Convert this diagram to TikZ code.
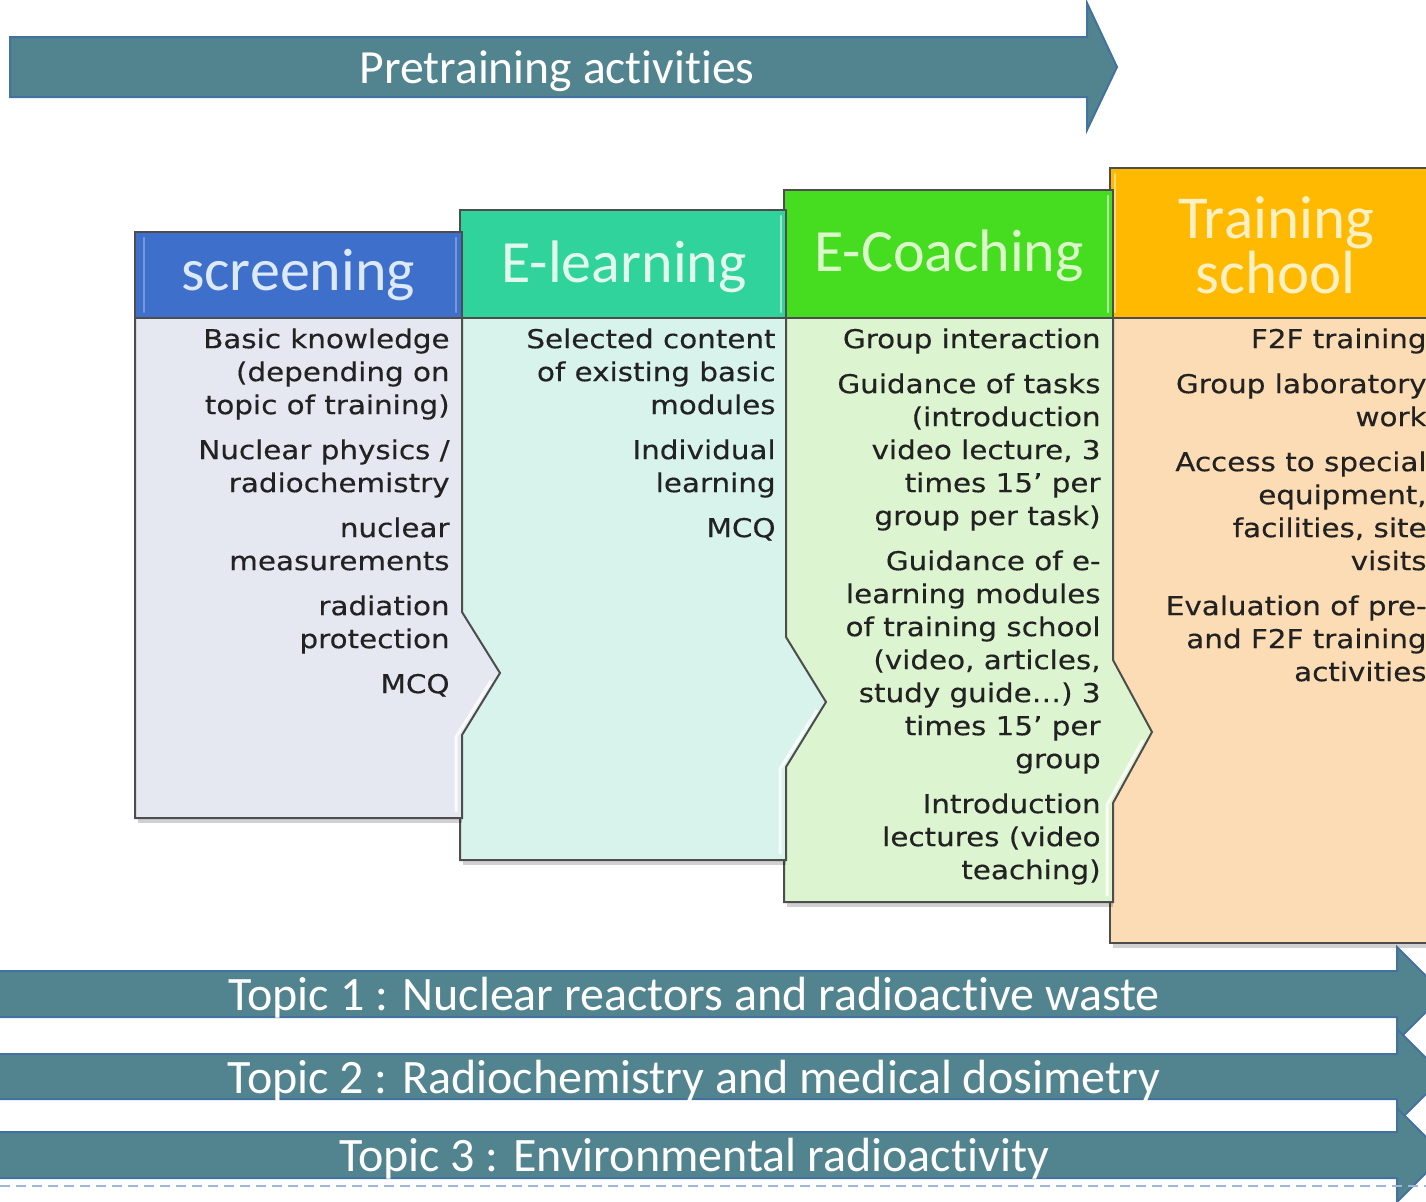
\documentclass[tikz,border=0pt]{standalone}
\usepackage{fontspec}
\setmainfont[Ligatures=NoCommon]{Carlito}
\newfontfamily\bodyfont[FakeStretch=1.13,FakeBold=0.35]{DejaVu Sans}
\definecolor{arrowfill}{HTML}{52848F}
\definecolor{arrowline}{HTML}{4472A0}
\definecolor{colline}{HTML}{4D4D4D}
\definecolor{bodyink}{HTML}{222222}
\definecolor{scrhead}{HTML}{3E6FCA}
\definecolor{scrbody}{HTML}{E5E7F1}
\definecolor{scrink}{HTML}{DCE9FA}
\definecolor{elhead}{HTML}{2FD39B}
\definecolor{elbody}{HTML}{D7F3EB}
\definecolor{elink}{HTML}{E2F8EE}
\definecolor{cohead}{HTML}{46DC20}
\definecolor{cobody}{HTML}{DCF4CF}
\definecolor{coink}{HTML}{DAF8CA}
\definecolor{trhead}{HTML}{FFBA00}
\definecolor{trbody}{HTML}{FCDCB4}
\definecolor{trink}{HTML}{FFF0C4}
\definecolor{dashcol}{HTML}{9DB7D5}
\begin{document}
\begin{tikzpicture}[x=0.5pt,y=-0.5pt,
  colborder/.style={draw=colline, line width=1pt, line join=miter},
  arrowshape/.style={fill=arrowfill, draw=arrowline, line width=1pt},
  bodytext/.style={font=\bodyfont\fontsize{13}{16.5}\selectfont, text=bodyink, align=right, inner sep=0pt, anchor=north east},
  headtext/.style={font=\fontsize{30}{24}\selectfont, inner sep=0pt, anchor=base},
  arrowtext/.style={font=\fontsize{24}{28}\selectfont, text=white, inner sep=0pt, anchor=base},
  glow/.style={line width=1.2pt, line cap=round},
  boxshadow/.style={fill=black, opacity=0.18}
]
\useasboundingbox (0,0) rectangle (1426,1201);
\clip (0,0) rectangle (1426,1201);

% top arrow
\path[arrowshape] (10,37) -- (1087,37) -- (1087,3) -- (1117,67) -- (1087,130) -- (1087,97) -- (10,97) -- cycle;
\node[arrowtext, font=\fontsize{23.8}{28}\selectfont] (pre) at (557,83) {Pretraining activities};

% Training school column
\fill[boxshadow] (1113,944) rectangle (1440,948);
\fill[trbody] (1110,318) rectangle (1440,943);
\fill[trhead] (1110,168) rectangle (1440,318);
\draw[trink!60!trhead, glow] (1115,174) -- (1115,312);
\draw[colborder] (1440,168) -- (1110,168) -- (1110,943) -- (1440,943);
\draw[colborder] (1110,318) -- (1440,318);

% E-Coaching column
\fill[boxshadow] (787,903) rectangle (1113,907);
\fill[cobody] (784,318) -- (1113,318) -- (1113,660) -- (1152,732) -- (1113,803) -- (1113,902) -- (784,902) -- cycle;
\fill[cohead] (784,190) rectangle (1113,318);
\draw[coink!70!cohead, glow] (1108,196) -- (1108,312);
\draw[colborder] (784,190) rectangle (1113,318);
\draw[colborder] (1113,318) -- (1113,660) -- (1152,732) -- (1113,803) -- (1113,902) -- (784,902) -- (784,318);
\draw[white, opacity=0.8, line width=1.5pt] (1143,740) -- (1107,805) -- (1107,896);

% E-learning column
\fill[boxshadow] (463,861) rectangle (786,865);
\fill[elbody] (460,318) -- (786,318) -- (786,637) -- (826,702) -- (786,767) -- (786,860) -- (460,860) -- cycle;
\fill[elhead] (460,210) rectangle (786,318);
\draw[elink!60!elhead, glow] (781,216) -- (781,312);
\draw[colborder] (460,210) rectangle (786,318);
\draw[colborder] (786,318) -- (786,637) -- (826,702) -- (786,767) -- (786,860) -- (460,860) -- (460,318);
\draw[white, opacity=0.8, line width=1.5pt] (817,710) -- (780,769) -- (780,854);

% screening column
\fill[boxshadow] (138,819) rectangle (462,823);
\fill[scrbody] (135,318) -- (462,318) -- (462,612) -- (500,673) -- (462,735) -- (462,818) -- (135,818) -- cycle;
\fill[scrhead] (135,232) rectangle (462,318);
\draw[scrink!35!scrhead, glow] (144,238) -- (144,312);
\draw[scrink!35!scrhead, glow] (456,238) -- (456,312);
\draw[colborder] (135,232) rectangle (462,318);
\draw[colborder] (462,318) -- (462,612) -- (500,673) -- (462,735) -- (462,818) -- (135,818) -- (135,318);
\draw[white, opacity=0.8, line width=1.5pt] (491,681) -- (456,737) -- (456,812);

% header texts
\node[headtext, text=scrink] (hscr) at (298,290) {screening};
\node[headtext, text=elink] (hel) at (624,282) {E-learning};
\node[headtext, text=coink] (hco) at (949,271) {E-Coaching};
\node[headtext, text=trink, anchor=north, align=center, font=\fontsize{30.5}{23.5}\selectfont] (htr) at (1276,196) {Training\\school};

% body texts
\node[bodytext] (tscr) at (450,328) {Basic knowledge\\(depending on\\topic of training)\\[6pt]
Nuclear physics /\\radiochemistry\\[6pt]
nuclear\\measurements\\[6pt]
radiation\\protection\\[6pt]
MCQ};
\node[bodytext] (tel) at (776,328) {Selected content\\of existing basic\\modules\\[6pt]
Individual\\learning\\[6pt]
MCQ};
\node[bodytext] (tco) at (1101,328) {Group interaction\\[6pt]
Guidance of tasks\\(introduction\\video lecture, 3\\times 15’ per\\group per task)\\[6pt]
Guidance of e-\\learning modules\\of training school\\(video, articles,\\study guide…) 3\\times 15’ per\\group\\[6pt]
Introduction\\lectures (video\\teaching)};
\node[bodytext] (ttr) at (1427,328) {F2F training\\[6pt]
Group laboratory\\work\\[6pt]
Access to special\\equipment,\\facilities, site\\visits\\[6pt]
Evaluation of pre-\\and F2F training\\activities};

% bottom arrows
\path[arrowshape] (-5,971) -- (1397,971) -- (1397,947) -- (1444,994) -- (1397,1041) -- (1397,1017) -- (-5,1017) -- cycle;
\node[arrowtext] (t1) at (694,1010) {Topic 1 : Nuclear reactors and radioactive waste};
\path[arrowshape] (-5,1054) -- (1397,1054) -- (1397,1029) -- (1444,1076) -- (1397,1123) -- (1397,1099) -- (-5,1099) -- cycle;
\node[arrowtext] (t2) at (694,1093) {Topic 2 : Radiochemistry and medical dosimetry};
\path[arrowshape] (-5,1132) -- (1397,1132) -- (1397,1108) -- (1444,1155) -- (1397,1202) -- (1397,1178) -- (-5,1178) -- cycle;
\node[arrowtext] (t3) at (694,1171) {Topic 3 : Environmental radioactivity};

% dashed line
\coordinate (dl) at (0,1186);
\coordinate (dr) at (1426,1186);
\draw[dashcol, line width=0.6pt, dash pattern=on 5pt off 3pt] (dl) -- (dr);
\end{tikzpicture}
\end{document}
